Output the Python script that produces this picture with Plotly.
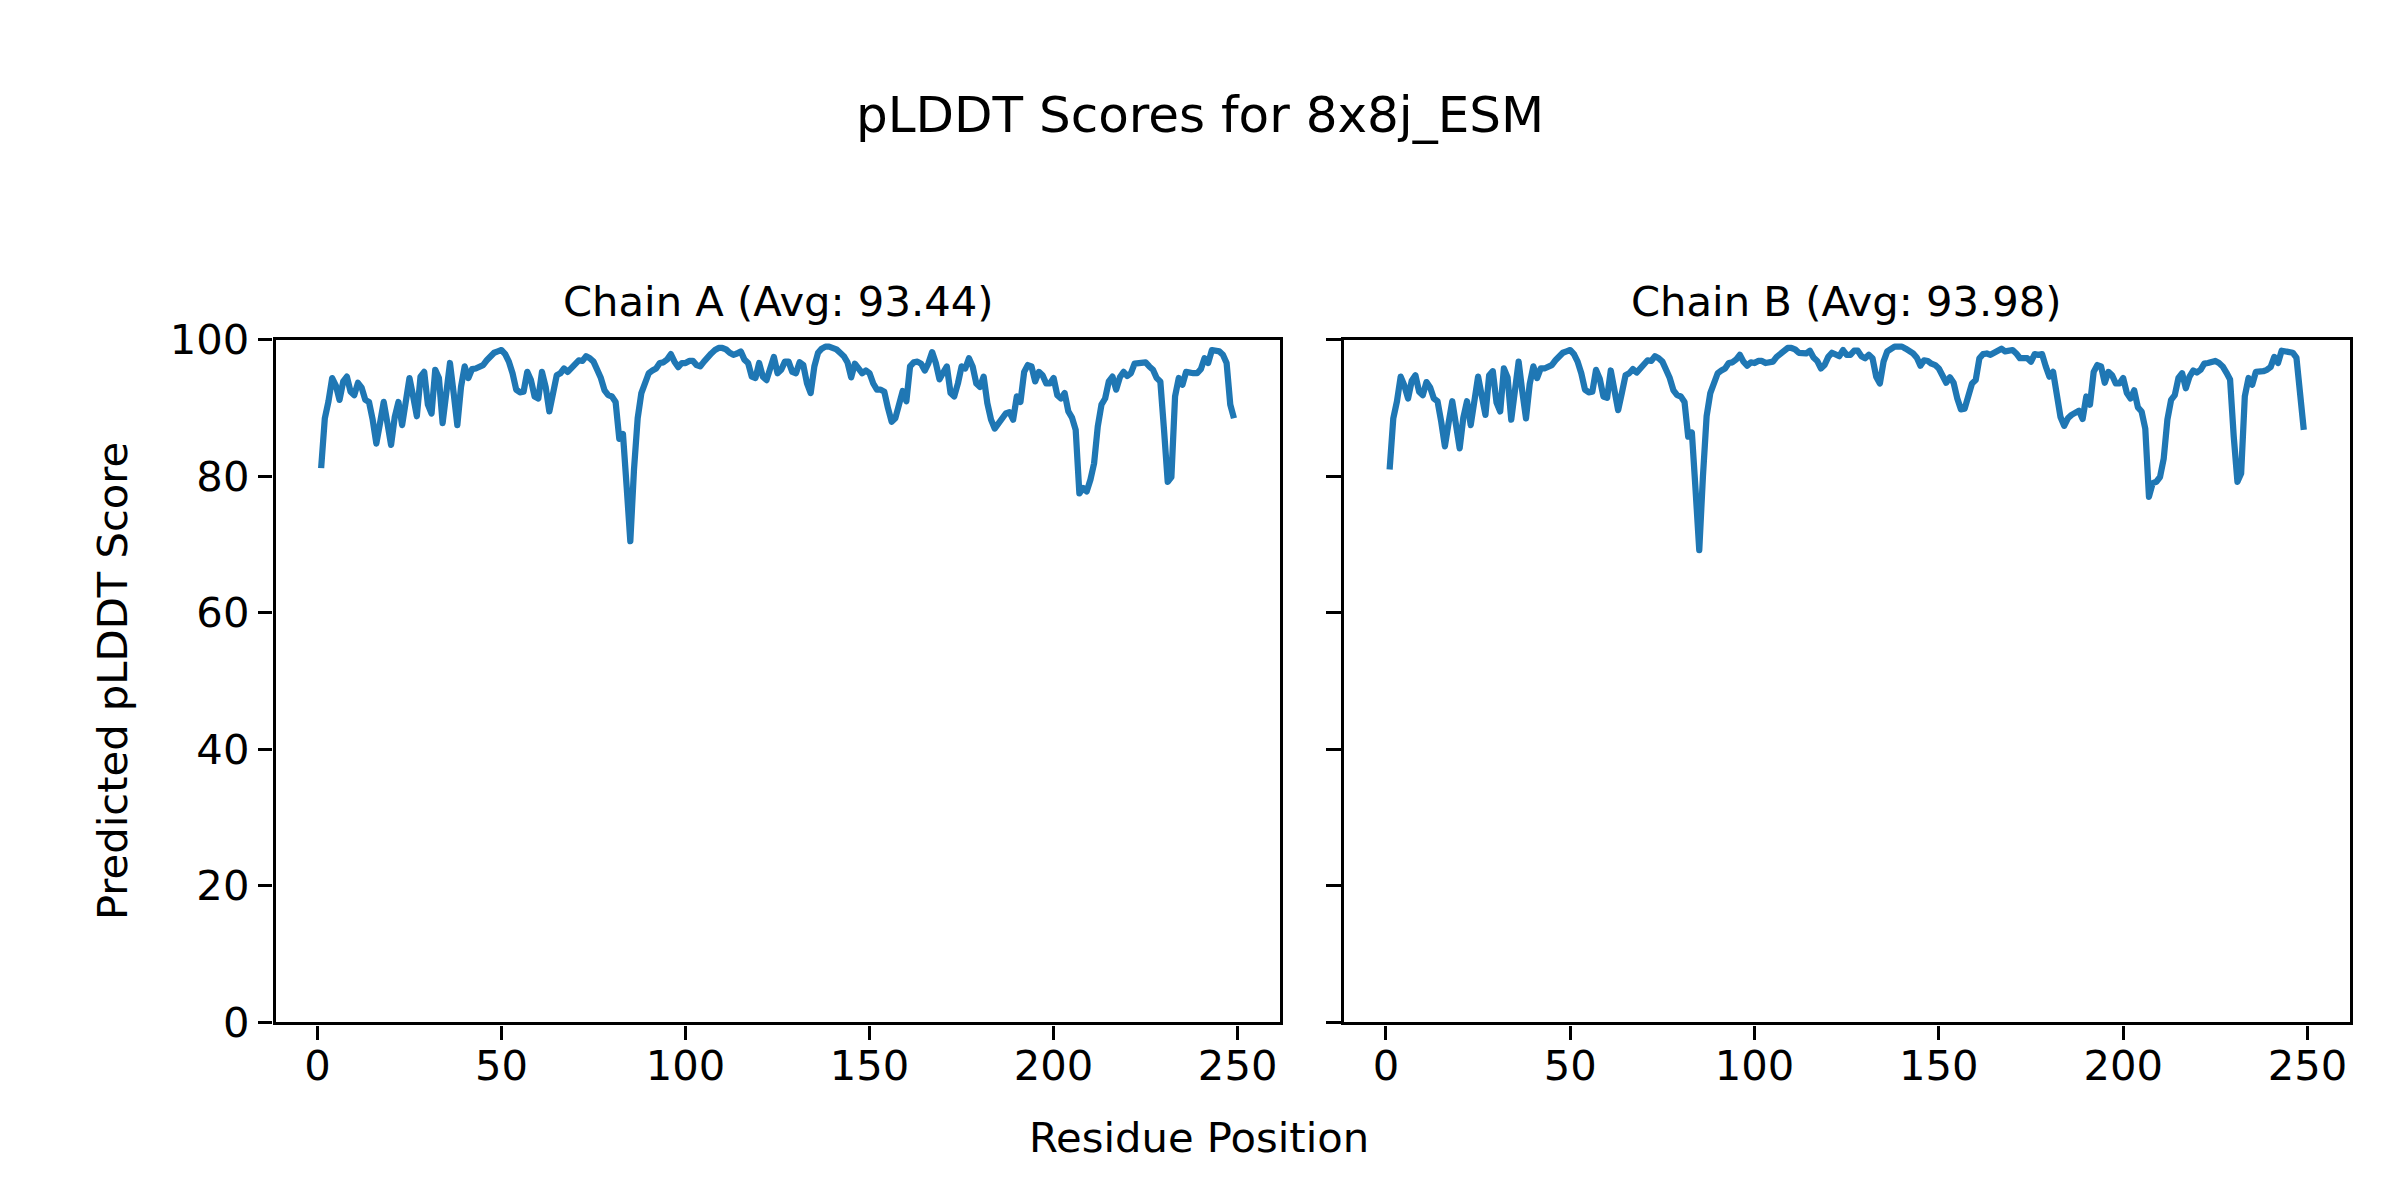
import plotly.graph_objects as go

chain_a = [81.2, 88.5, 91.0, 94.4, 93.3, 91.2, 93.9, 94.6, 92.4, 91.9,
           93.7, 93.0, 91.2, 90.9, 88.3, 84.8, 87.8, 90.9, 87.8, 84.6,
           88.7, 90.9, 87.5, 91.2, 94.4, 91.7, 88.8, 94.6, 95.3, 90.5,
           89.2, 95.6, 94.4, 87.8, 92.2, 96.6, 92.2, 87.5, 93.1, 96.1,
           94.4, 95.7, 95.8, 96.1, 96.3, 97.0, 97.6, 98.1, 98.3, 98.5,
           97.9, 96.8, 95.1, 92.7, 92.3, 92.4, 95.3, 94.1, 91.7, 91.4,
           95.3, 93.1, 89.5, 92.2, 94.8, 95.1, 95.8, 95.3, 95.8, 96.6,
           97.0, 96.9, 97.6, 97.3, 96.8, 95.6, 94.4, 92.6, 91.9, 91.7,
           90.9, 85.5, 86.2, 78.5, 70.5, 81.0, 88.5, 92.2, 94.0, 95.1,
           95.5, 95.8, 96.6, 96.7, 97.1, 97.9, 96.8, 96.0, 96.6, 96.6,
           96.9, 96.9, 96.3, 96.1, 96.8, 97.5, 98.0, 98.5, 98.8, 98.8,
           98.6, 98.1, 97.8, 98.0, 98.3, 97.1, 96.6, 94.6, 94.4, 96.6,
           94.6, 94.1, 95.6, 97.5, 95.1, 95.6, 96.8, 96.8, 95.3, 95.1,
           96.7, 96.3, 93.6, 92.2, 96.1, 98.1, 98.7, 99.0, 99.0, 98.8,
           98.6, 98.1, 97.6, 96.7, 94.5, 96.5, 95.8, 95.1, 95.5, 95.1,
           93.6, 92.7, 92.7, 92.4, 90.0, 88.0, 88.5, 90.2, 92.5, 91.0,
           96.1, 96.7, 96.8, 96.5, 95.5, 96.6, 98.2, 96.6, 94.2, 95.2,
           96.1, 92.2, 91.7, 93.6, 96.1, 95.8, 97.3, 96.1, 93.6, 93.1,
           94.6, 90.7, 88.3, 87.0, 87.8, 88.6, 89.2, 89.4, 88.3, 91.7,
           90.9, 95.3, 96.3, 96.1, 93.9, 95.3, 94.8, 93.6, 93.6, 94.4,
           91.9, 91.4, 92.2, 89.5, 88.6, 86.8, 77.5, 78.3, 77.8, 79.5,
           81.9, 87.3, 90.5, 91.4, 93.9, 94.6, 92.7, 94.5, 95.3, 94.7,
           95.1, 96.5, 96.6, 96.5, 96.7, 96.1, 95.6, 94.4, 93.9, 86.8,
           79.2, 79.9, 91.7, 94.4, 93.4, 95.3, 95.1, 95.1, 95.1, 95.7,
           97.3, 96.6, 98.5, 98.3, 98.3, 97.8, 96.6, 90.5, 88.5]

chain_b = [81.0, 88.5, 91.0, 94.6, 93.3, 91.4, 94.0, 94.8, 92.4, 91.9,
           93.8, 93.0, 91.4, 91.0, 88.0, 84.4, 87.8, 91.0, 87.6, 84.1,
           88.6, 91.0, 87.5, 91.4, 94.6, 91.8, 89.0, 94.8, 95.4, 90.8,
           89.5, 95.8, 94.5, 88.3, 92.4, 96.8, 92.4, 88.5, 93.5, 96.1,
           94.4, 95.8, 95.8, 96.0, 96.3, 97.0, 97.6, 98.1, 98.3, 98.5,
           97.9, 96.8, 95.1, 92.7, 92.3, 92.4, 95.6, 94.3, 91.7, 91.5,
           95.5, 93.1, 89.7, 92.2, 94.8, 95.1, 95.7, 95.2, 95.8, 96.6,
           97.0, 96.9, 97.6, 97.3, 96.8, 95.6, 94.4, 92.6, 91.9, 91.7,
           90.9, 85.8, 86.4, 78.0, 69.2, 80.0, 88.8, 92.2, 94.0, 95.1,
           95.5, 95.8, 96.6, 96.7, 97.1, 97.8, 96.8, 96.2, 96.7, 96.6,
           96.9, 96.9, 96.6, 96.6, 96.8, 97.5, 98.0, 98.5, 98.8, 98.8,
           98.6, 98.1, 98.0, 98.0, 98.4, 97.4, 96.9, 95.8, 96.3, 97.5,
           98.1, 97.8, 97.6, 98.5, 97.8, 97.8, 98.4, 98.4, 97.6, 97.3,
           97.8, 97.3, 94.6, 93.6, 96.8, 98.3, 98.6, 99.0, 99.0, 99.0,
           98.7, 98.4, 98.0, 97.4, 96.2, 97.0, 96.9, 96.5, 96.3, 95.8,
           94.6, 93.7, 94.5, 93.7, 91.4, 89.8, 89.9, 91.7, 93.6, 94.1,
           97.3, 97.9, 98.0, 97.8, 98.1, 98.4, 98.7, 98.3, 98.4, 98.5,
           98.0, 97.3, 97.3, 97.3, 96.8, 97.9, 97.8, 97.9, 96.1, 94.6,
           95.3, 91.7, 88.7, 87.4, 88.5, 89.0, 89.3, 89.6, 88.4, 91.7,
           90.5, 95.3, 96.3, 96.1, 93.7, 95.3, 94.8, 93.6, 93.6, 94.4,
           92.2, 91.4, 92.6, 90.1, 89.5, 87.0, 77.0, 79.0, 79.2, 79.9,
           82.6, 88.3, 91.2, 91.9, 94.4, 95.1, 92.9, 94.6, 95.5, 95.2,
           95.6, 96.5, 96.6, 96.7, 96.9, 96.6, 96.1, 95.2, 94.2, 85.8,
           79.2, 80.4, 91.7, 94.4, 93.4, 95.3, 95.3, 95.4, 95.6, 96.0,
           97.5, 96.6, 98.4, 98.3, 98.4, 98.1, 97.4, 92.2, 86.8]

residues_a = list(range(1, len(chain_a) + 1))
residues_b = list(range(1, len(chain_b) + 1))

suptitle = "pLDDT Scores for 8x8j_ESM"
subtitles = ["Chain A (Avg: 93.44)", "Chain B (Avg: 93.98)"]
x_label = "Residue Position"
y_label = "Predicted pLDDT Score"
x_ticks = [0, 50, 100, 150, 200, 250]
y_ticks = [0, 20, 40, 60, 80, 100]

W, H = 2400, 1200
FONT = "DejaVu Sans"
BLUE = "#1f77b4"
fs = 41.7

fig = go.Figure()
fig.add_trace(go.Scatter(x=residues_a, y=chain_a, mode="lines",
                         line=dict(color=BLUE, width=6.25), xaxis="x", yaxis="y",
                         showlegend=False))
fig.add_trace(go.Scatter(x=residues_b, y=chain_b, mode="lines",
                         line=dict(color=BLUE, width=6.25), xaxis="x2", yaxis="y2",
                         showlegend=False))

dom_a = [275.5 / W, 1279.6 / W]
dom_b = [1343.9 / W, 2349.5 / W]
dom_y = [1 - 1022.4 / H, 1 - 339.8 / H]

def xaxis(dom, anchor):
    return dict(domain=dom, anchor=anchor, range=[-11.4, 261.4], tickvals=x_ticks,
                ticks="outside", ticklen=14.6, tickwidth=3.3, tickcolor="black",
                showline=True, linecolor="black", linewidth=3.3, mirror=True,
                showgrid=False, zeroline=False, ticklabelstandoff=-10,
                automargin=False,
                tickfont=dict(family=FONT, size=fs, color="black"))

def yaxis(anchor, labels):
    return dict(domain=dom_y, anchor=anchor, range=[0, 100], tickvals=y_ticks,
                ticks="outside", ticklen=14.6, tickwidth=3.3, tickcolor="black",
                showline=True, linecolor="black", linewidth=3.3, mirror=True,
                showgrid=False, zeroline=False, showticklabels=labels,
                ticklabelstandoff=0, automargin=False,
                tickfont=dict(family=FONT, size=fs, color="black"))

annotations = [
    dict(text=suptitle, x=0.5, y=1 - 115 / H, xref="paper", yref="paper",
         showarrow=False, font=dict(family=FONT, size=50, color="black"),
         xanchor="center", yanchor="middle"),
    dict(text=subtitles[0], x=sum(dom_a) / 2, y=1 - 301.5 / H, xref="paper", yref="paper",
         showarrow=False, font=dict(family=FONT, size=fs, color="black"),
         xanchor="center", yanchor="middle"),
    dict(text=subtitles[1], x=sum(dom_b) / 2, y=1 - 301.5 / H, xref="paper", yref="paper",
         showarrow=False, font=dict(family=FONT, size=fs, color="black"),
         xanchor="center", yanchor="middle"),
    dict(text=x_label, x=1199 / W, y=1 - 1137 / H, xref="paper", yref="paper",
         showarrow=False, font=dict(family=FONT, size=fs, color="black"),
         xanchor="center", yanchor="middle"),
    dict(text=y_label, x=112 / W, y=sum(dom_y) / 2, xref="paper", yref="paper",
         showarrow=False, textangle=-90, font=dict(family=FONT, size=fs, color="black"),
         xanchor="center", yanchor="middle"),
]

fig.update_layout(
    template="none",
    width=W, height=H, autosize=False,
    margin=dict(l=0, r=0, t=0, b=0, pad=0),
    paper_bgcolor="white", plot_bgcolor="white",
    xaxis=xaxis(dom_a, "y"), xaxis2=xaxis(dom_b, "y2"),
    yaxis=yaxis("x", True), yaxis2=yaxis("x2", False),
    annotations=annotations,
    font=dict(family=FONT, color="black"),
)

post = ("document.body.style.margin='0';"
        "document.querySelectorAll('.js-line').forEach(function(p){"
        "p.style.strokeLinejoin='round';});")
fig.write_html("out.html", post_script=post, config={"displayModeBar": False})
